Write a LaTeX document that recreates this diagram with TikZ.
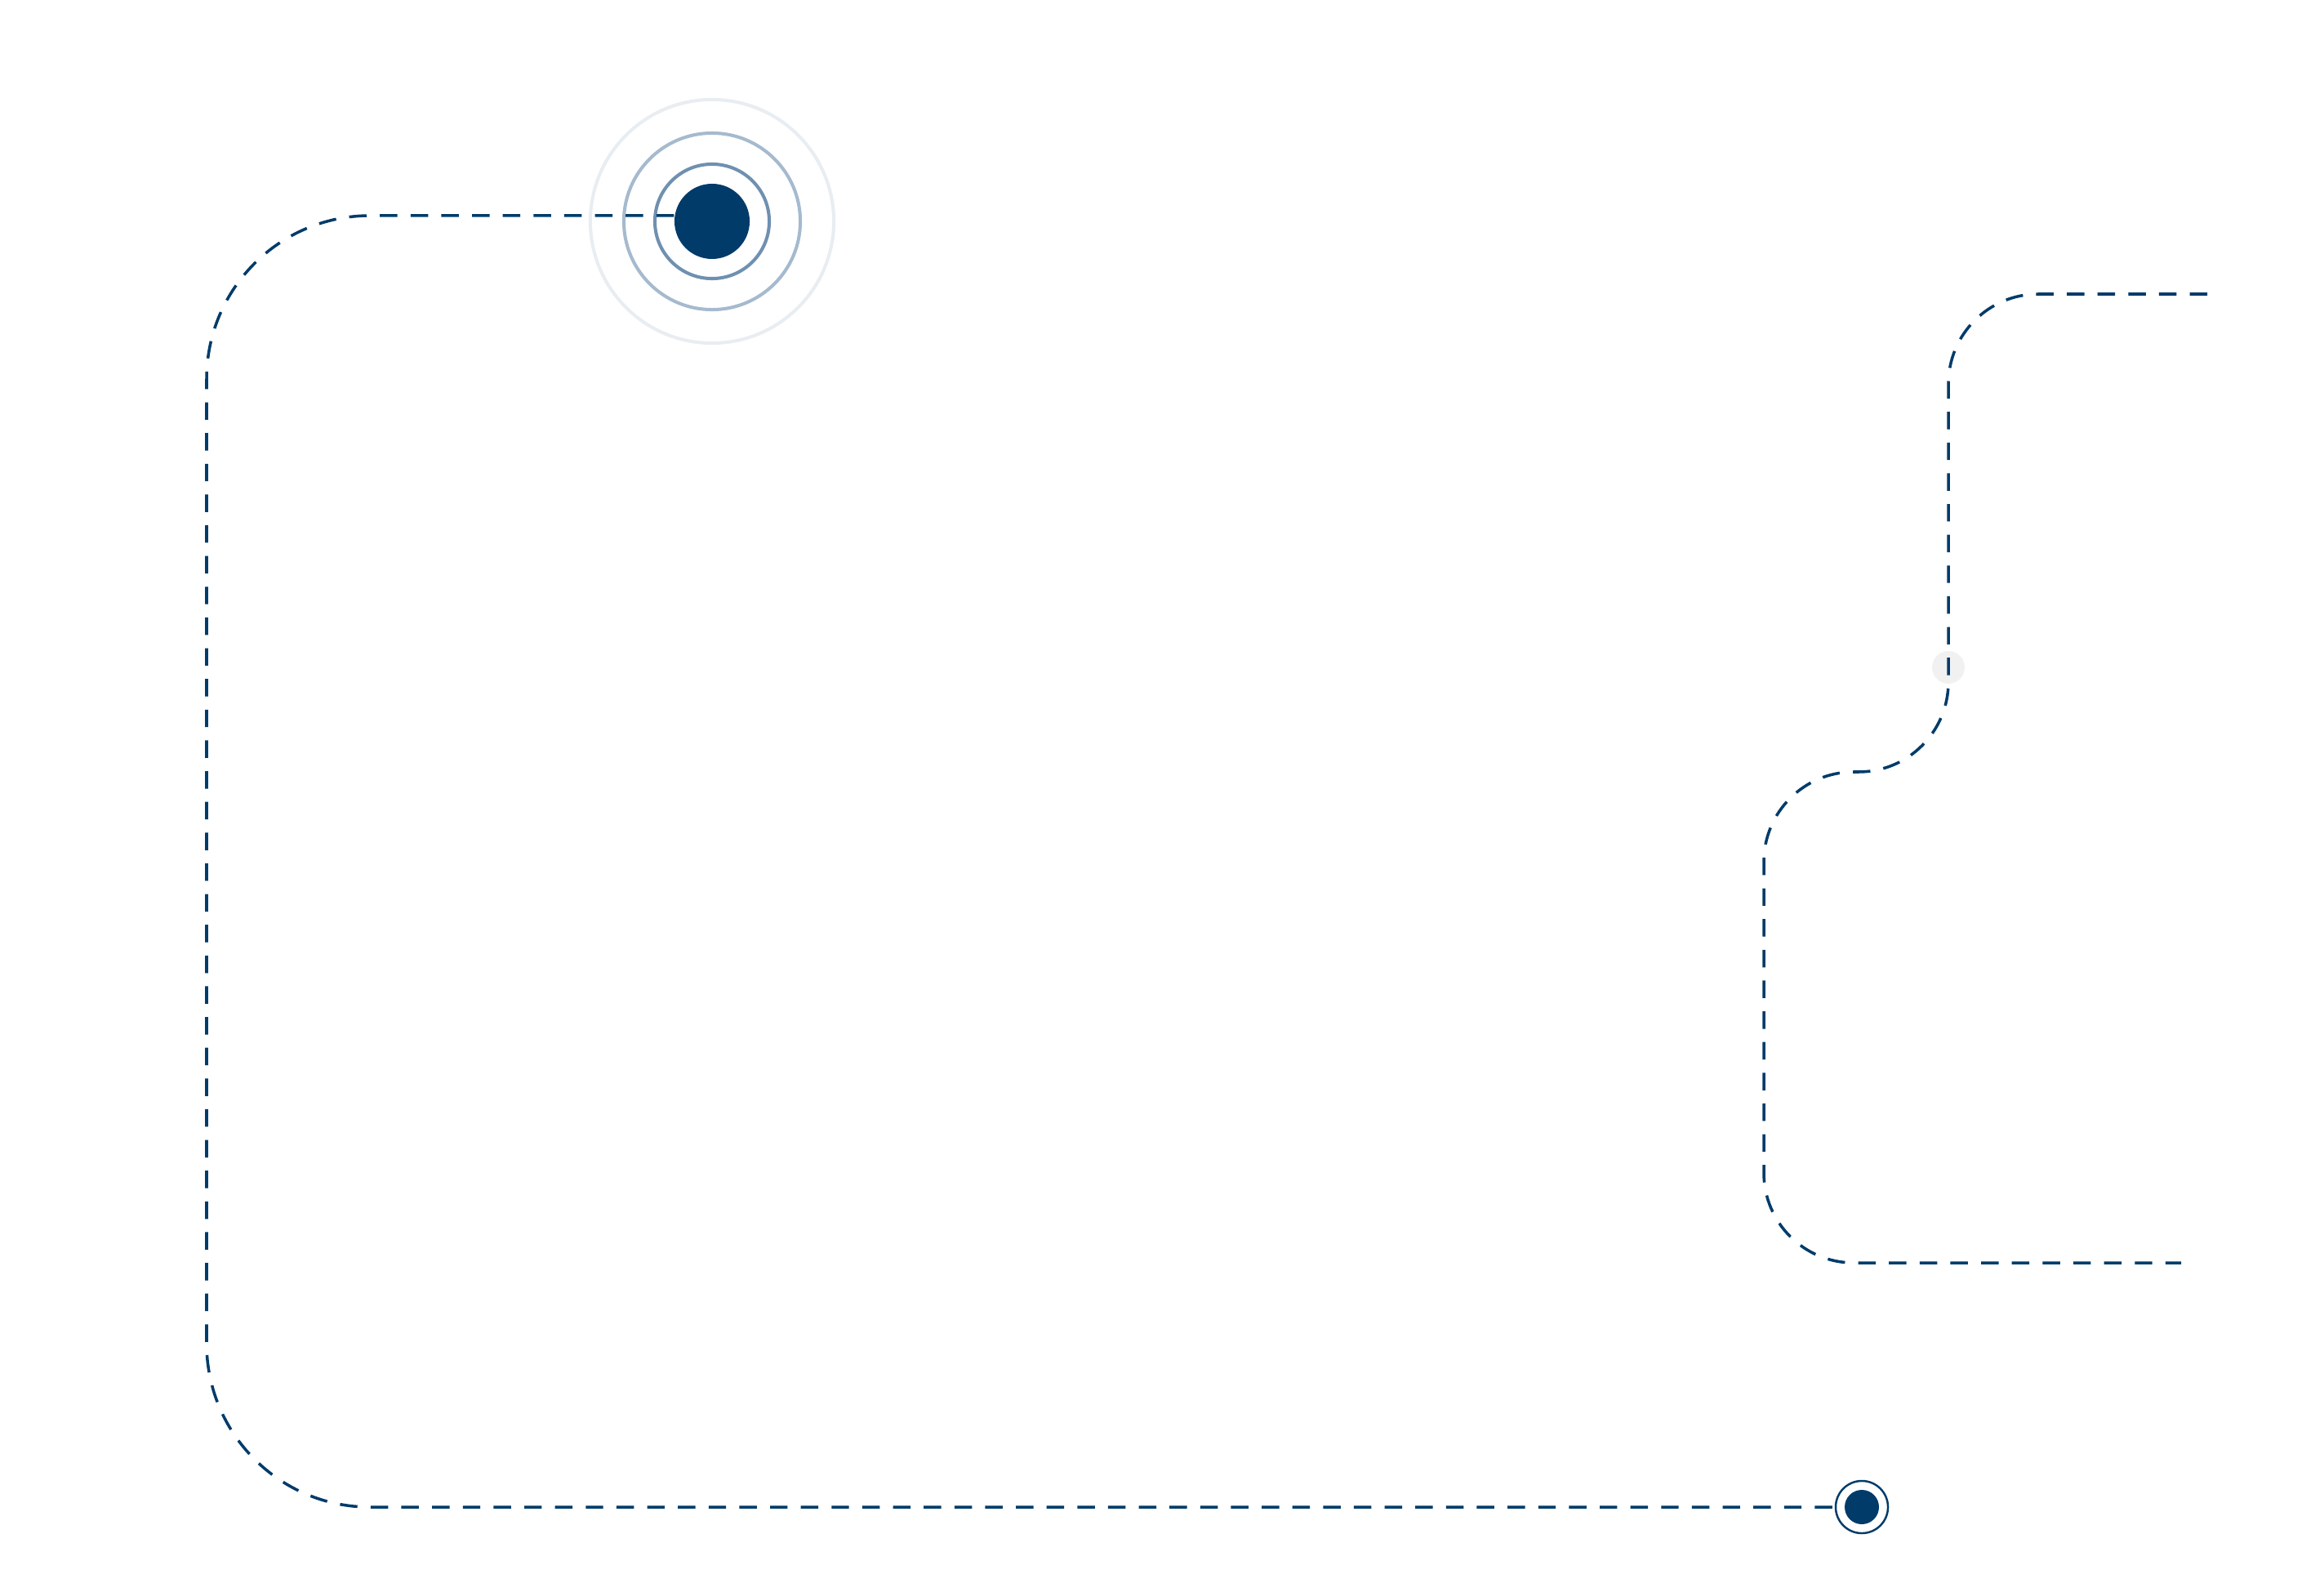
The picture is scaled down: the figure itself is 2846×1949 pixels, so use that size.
\documentclass[tikz,border=0pt]{standalone}
\usepackage{tikz}
\usetikzlibrary{positioning}
\definecolor{navy}{HTML}{003B6A}
\definecolor{ringA}{HTML}{6F90B0}
\definecolor{ringB}{HTML}{A5BACE}
\definecolor{ringC}{HTML}{E8EDF2}
\definecolor{ghostgray}{HTML}{F1F1F2}
\tikzstyle{route} = [navy,line width=1pt,dash pattern=on 6.1pt off 4.6pt]

\begin{document}
\begin{tikzpicture}[x=0.01cm,y=-0.01cm,
	target/.style={circle, fill=navy, inner sep=0pt, minimum size=0.92cm},
	spot/.style={circle, fill=navy, inner sep=0pt, minimum size=0.42cm},
	ghost/.style={circle, fill=ghostgray, inner sep=0pt, minimum size=0.40cm},
	ring/.style={line width=1.15pt}]
	\useasboundingbox (0,0) rectangle (2846,1949);
	
	\node[target] (1) at (872,271) {};
	\node[spot] (2) at (2280,1845) {};
	\node[ghost] (3) at (2386,817) {};
	\coordinate (4) at (2703,360);
	\coordinate (5) at (2671,1546);
	
	\draw[ring,ringC] (1) circle (1.49cm);
	\draw[ring,ringB] (1) circle (1.08cm);
	\draw[ring,ringA] (1) circle (0.70cm);
	\draw[navy,line width=0.7pt] (2) circle (0.32cm);
	
	\draw[route,rounded corners=2cm] ([yshift=0.07cm]1.west) -- (253,264) -- (253,1845) -- ([xshift=-0.05cm]2.west);
	\draw[route,rounded corners=1.1cm] (4) -- (3 |- 4) -- (2386,945) -- (2160,945) -- (2160,1546) -- (5);
\end{tikzpicture}
\end{document}
